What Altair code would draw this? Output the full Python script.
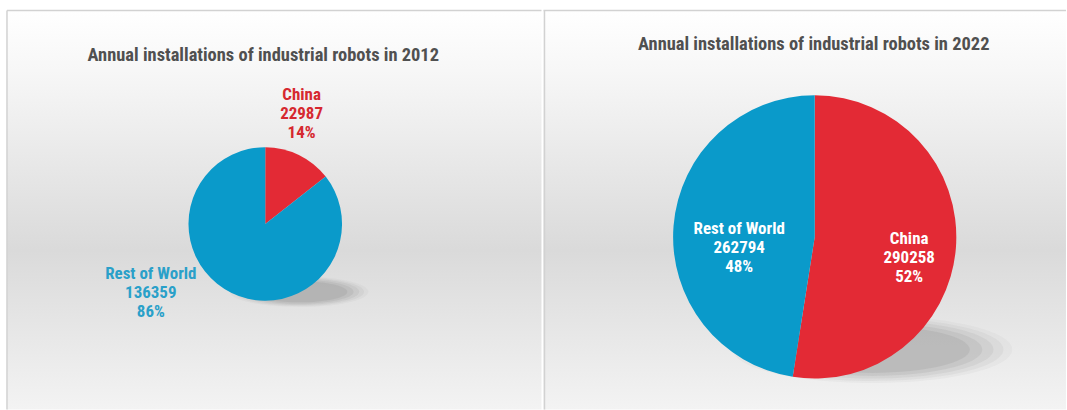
import altair as alt
import pandas as pd

# ---- data ----
regions = ["China", "Rest of World"]
installs_2012 = [22987, 136359]
pct_2012 = [14, 86]
installs_2022 = [290258, 262794]
pct_2022 = [52, 48]
titles = ["Annual installations of industrial robots in 2012",
          "Annual installations of industrial robots in 2022"]

RED = "#e32a35"
BLUE = "#0a9aca"
FONT = "Liberation Sans Narrow, Arial Narrow, Roboto Condensed, Liberation Sans, sans-serif"
H = 410


def make_df(vals, pcts):
    return pd.DataFrame({
        "region": regions,
        "value": vals,
        "idx": list(range(len(regions))),
        "label": [f"{r}\n{v}\n{p}%" for r, v, p in zip(regions, vals, pcts)],
    })


def background(x0, x1, y0=10):
    grad = alt.Gradient(
        gradient="linear", x1=0, x2=0, y1=0, y2=1,
        stops=[alt.GradientStop(color="#ffffff", offset=0),
               alt.GradientStop(color="#f7f7f7", offset=0.15),
               alt.GradientStop(color="#dadada", offset=0.6),
               alt.GradientStop(color="#f3f3f3", offset=1)])
    return alt.Chart(pd.DataFrame({"a": [0]})).mark_rect(color=grad).encode(
        x=alt.value(x0), x2=alt.value(x1), y=alt.value(y0), y2=alt.value(H))


def shadow(cx, cy, halfw, ratio):
    path = f"M-1,0 A1,{ratio} 0 1,0 1,0 A1,{ratio} 0 1,0 -1,0 Z"
    layers = []
    for k, op in [(1.12, 0.05), (1.05, 0.07), (0.97, 0.09), (0.88, 0.11), (0.78, 0.12)]:
        s = (2 * halfw * k) ** 2
        layers.append(alt.Chart(pd.DataFrame({"a": [0]})).mark_point(
            shape=path, filled=True, color="#6e6e6e", opacity=op, size=s,
            strokeWidth=0).encode(x=alt.value(cx), y=alt.value(cy)))
    return layers


def stacked(df):
    return alt.Chart(df).transform_joinaggregate(
        total="sum(value)"
    ).transform_window(
        cum="sum(value)", sort=[alt.SortField("idx")], frame=[None, 0]
    ).transform_calculate(
        f0="(datum.cum - datum.value) / datum.total",
        f1="datum.cum / datum.total",
        frac="(datum.cum - datum.value / 2) / datum.total",
    )


THETA_SCALE = alt.Scale(domain=[0, 1], range=[0, 6.283185307])


def pie(df, cx, cy, r):
    return stacked(df).mark_arc(radius=r, stroke=None).encode(
        theta=alt.Theta("f0:Q", scale=THETA_SCALE),
        theta2="f1:Q",
        color=alt.Color("region:N", scale=alt.Scale(domain=regions, range=[RED, BLUE]), legend=None),
        x=alt.value(cx), y=alt.value(cy))


def label(df, region, cx, cy, rad, dx, dy, color):
    return stacked(df).transform_filter(alt.datum.region == region).mark_text(
        radius=rad, dx=dx, dy=dy, font=FONT, fontSize=17, fontWeight="bold",
        lineBreak="\n", lineHeight=19, color=color, align="center", baseline="middle").encode(
        theta=alt.Theta("frac:Q", scale=THETA_SCALE),
        text="label:N",
        x=alt.value(cx), y=alt.value(cy))


def title(text, cx, cy):
    return alt.Chart(pd.DataFrame({"t": [text]})).mark_text(
        font=FONT, fontSize=18.5, fontWeight="bold", color="#505050",
        align="center", baseline="middle").encode(
        text="t:N", x=alt.value(cx), y=alt.value(cy))


def rule(x1, x2, y1, y2):
    return alt.Chart(pd.DataFrame({"a": [0]})).mark_rule(color="#d2d2d2", strokeWidth=1.5).encode(
        x=alt.value(x1), x2=alt.value(x2), y=alt.value(y1), y2=alt.value(y2))


df12 = make_df(installs_2012, pct_2012)
df22 = make_df(installs_2022, pct_2022)

W1, W2 = 543, 524

left = alt.layer(
    background(7, W1),
    *shadow(300, 292, 62, 0.22),
    pie(df12, 266, 224, 77),
    label(df12, "China", 266, 224, 122, -17, -20, "#d6282f"),
    label(df12, "Rest of World", 266, 224, 100, -71, -40, "#2aa0c9"),
    title(titles[0], 264, 55),
    rule(7, W1, 10, 10),
    rule(7, 7, 10, H),
).properties(width=W1, height=H)

right = alt.layer(
    background(0, W2),
    *shadow(330, 350, 125, 0.24),
    pie(df22, 272, 237, 142),
    label(df22, "China", 272, 237, 95, 0, -5, "#ffffff"),
    label(df22, "Rest of World", 272, 237, 76, 0, -2, "#ffffff"),
    title(titles[1], 271, 44),
    rule(0, W2, 10, 10),
    rule(1, 1, 10, H),
).properties(width=W2, height=H)

chart = alt.hconcat(left, right, spacing=0).properties(padding=0, background="#ffffff").configure_view(
    strokeWidth=0).configure_concat(spacing=0)

chart.save("out.html", embed_options={"renderer": "svg", "actions": False})
